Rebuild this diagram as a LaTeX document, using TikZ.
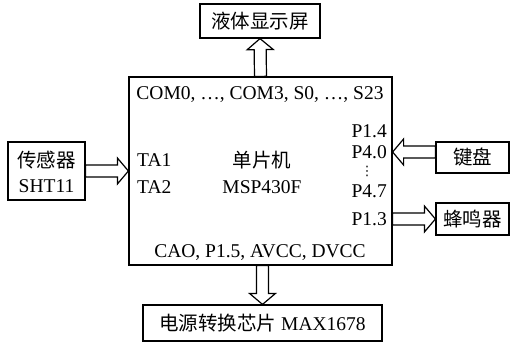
\documentclass[tikz,border=0pt]{standalone}
\usepackage{fontspec}
\setmainfont{Liberation Serif}
\newfontfamily\cjk{Noto Sans CJK SC}
\newfontfamily\sym{DejaVu Sans}
\usetikzlibrary{calc}
\tikzset{
  box/.style={draw, line width=1.2pt, inner sep=0pt, align=center},
  lbl/.style={inner sep=0pt},
  fat/.style={draw, line width=1.2pt, fill=white, line join=miter},
}
\newcommand\hollowarrow[2]{%
  \path[fat] let \p1=(#1), \p2=(#2), \n1={atan2(\y2-\y1,\x2-\x1)}, \n2={veclen(\x2-\x1,\y2-\y1)} in
  [shift={(\p1)}, rotate=\n1]
  (0pt,-6pt) -- ({\n2*1pt-11pt},-6pt) -- ({\n2*1pt-11pt},-13pt) -- ({\n2*1pt},0pt)
  -- ({\n2*1pt-11pt},13pt) -- ({\n2*1pt-11pt},6pt) -- (0pt,6pt) -- cycle;}
\begin{document}
\begin{tikzpicture}[x=1pt,y=-1pt,font=\fontsize{19.5}{22}\selectfont]
\useasboundingbox (0,0) rectangle (511,343);
\node[box, minimum width=120pt, minimum height=34pt] (lcd) at (260,21) {\cjk 液体显示屏};
\node[box, minimum width=263pt, minimum height=188pt] (mcu) at (260.5,171) {};
\node[box, minimum width=77pt, minimum height=58pt] (sensor) at (46.5,171) {};
\node[lbl] (s1) at (46.5,160) {\cjk 传感器};
\node[lbl] (s2) at (46.5,186) {SHT11};
\node[box, minimum width=73pt, minimum height=31pt] (key) at (472.5,157.5) {\cjk 键盘};
\node[box, minimum width=73pt, minimum height=32pt] (buzz) at (472.5,219) {\cjk 蜂鸣器};
\node[box, minimum width=239pt, minimum height=36pt] (power) at (262.5,323) {{\cjk 电源转换芯片} MAX1678};
% labels inside the MCU
\node[lbl] (com) at (260,95) {COM0, \ldots, COM3, S0, \ldots, S23};
\node[lbl, anchor=west] (ta1) at (137,160) {TA1};
\node[lbl, anchor=west] (ta2) at (137,187) {TA2};
\node[lbl] (mcu1) at (262,160) {\cjk 单片机};
\node[lbl] (mcu2) at (262,187) {MSP430F};
\node[lbl, anchor=east] (p14) at (387,131) {P1.4};
\node[lbl, anchor=east] (p40) at (387,152) {P4.0};
\node[lbl] (dots) at (367,171) {\sym\fontsize{13}{13}\selectfont ⋮};
\node[lbl, anchor=east] (p47) at (387,191) {P4.7};
\node[lbl, anchor=east] (p13) at (387,219) {P1.3};
\node[lbl] (cao) at (260,253) {CAO, P1.5, AVCC, DVCC};
% arrows
\hollowarrow{mcu.north}{lcd.south}
\hollowarrow{mcu.south -| power.north}{power.north}
\hollowarrow{sensor.east}{sensor.east -| mcu.west}
\hollowarrow{key.west |- p40.east}{mcu.east |- p40.east}
\hollowarrow{mcu.east |- buzz.west}{buzz.west}
\end{tikzpicture}
\end{document}
